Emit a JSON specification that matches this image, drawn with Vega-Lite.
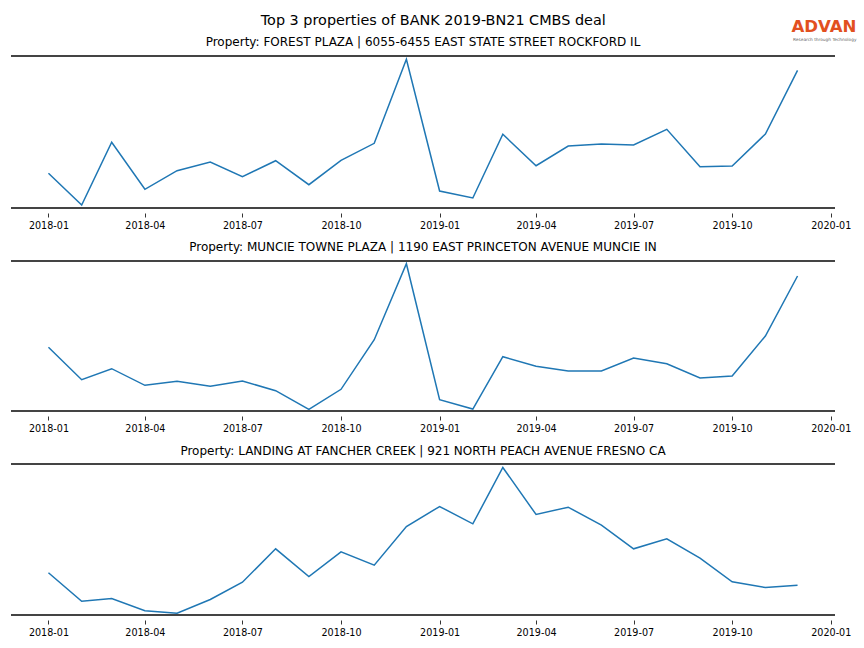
{
  "$schema": "https://vega.github.io/schema/vega-lite/v6.json",
  "padding": {"left": 10, "top": 12, "right": 0, "bottom": 0},
  "background": "white",
  "config": {
    "view": {"stroke": null},
    "font": "DejaVu Sans",
    "title": {"font": "DejaVu Sans", "fontWeight": "normal", "fontSize": 12, "color": "#000"},
    "axisX": {
      "domain": false, "grid": false, "tickColor": "#000", "tickWidth": 0.8, "tickSize": 4, "offset": 5,
      "labelFont": "DejaVu Sans", "labelFontSize": 9.6, "labelColor": "#000", "labelPadding": 3,
      "labelFlush": false, "labelOverlap": false
    }
  },
  "datasets": {
    "forest": [
      {"date": "2018-01-01", "value": 34.7}, {"date": "2018-02-01", "value": 3}, {"date": "2018-03-01", "value": 65.7},
      {"date": "2018-04-01", "value": 18.7}, {"date": "2018-05-01", "value": 37.3}, {"date": "2018-06-01", "value": 46},
      {"date": "2018-07-01", "value": 31.3}, {"date": "2018-08-01", "value": 47.3}, {"date": "2018-09-01", "value": 23.3},
      {"date": "2018-10-01", "value": 47.7}, {"date": "2018-11-01", "value": 64.7}, {"date": "2018-12-01", "value": 148.7},
      {"date": "2019-01-01", "value": 17}, {"date": "2019-02-01", "value": 10}, {"date": "2019-03-01", "value": 73.7},
      {"date": "2019-04-01", "value": 42.3}, {"date": "2019-05-01", "value": 62}, {"date": "2019-06-01", "value": 64},
      {"date": "2019-07-01", "value": 63}, {"date": "2019-08-01", "value": 78.7}, {"date": "2019-09-01", "value": 41.3},
      {"date": "2019-10-01", "value": 42}, {"date": "2019-11-01", "value": 74}, {"date": "2019-12-01", "value": 137.7}
    ],
    "muncie": [
      {"date": "2018-01-01", "value": 63.7}, {"date": "2018-02-01", "value": 31.3}, {"date": "2018-03-01", "value": 42.3},
      {"date": "2018-04-01", "value": 25.7}, {"date": "2018-05-01", "value": 29.7}, {"date": "2018-06-01", "value": 24.7},
      {"date": "2018-07-01", "value": 30}, {"date": "2018-08-01", "value": 20.3}, {"date": "2018-09-01", "value": 1.7},
      {"date": "2018-10-01", "value": 21.7}, {"date": "2018-11-01", "value": 71.3}, {"date": "2018-12-01", "value": 147.3},
      {"date": "2019-01-01", "value": 11.3}, {"date": "2019-02-01", "value": 2}, {"date": "2019-03-01", "value": 54.3},
      {"date": "2019-04-01", "value": 44.7}, {"date": "2019-05-01", "value": 40}, {"date": "2019-06-01", "value": 40},
      {"date": "2019-07-01", "value": 53}, {"date": "2019-08-01", "value": 47.3}, {"date": "2019-09-01", "value": 33},
      {"date": "2019-10-01", "value": 35}, {"date": "2019-11-01", "value": 75}, {"date": "2019-12-01", "value": 135}
    ],
    "fancher": [
      {"date": "2018-01-01", "value": 42.2}, {"date": "2018-02-01", "value": 13.8}, {"date": "2018-03-01", "value": 16.5},
      {"date": "2018-04-01", "value": 4.2}, {"date": "2018-05-01", "value": 1.8}, {"date": "2018-06-01", "value": 15.5},
      {"date": "2018-07-01", "value": 32.8}, {"date": "2018-08-01", "value": 66.2}, {"date": "2018-09-01", "value": 38.5},
      {"date": "2018-10-01", "value": 63.2}, {"date": "2018-11-01", "value": 49.8}, {"date": "2018-12-01", "value": 88.5},
      {"date": "2019-01-01", "value": 108.5}, {"date": "2019-02-01", "value": 91.2}, {"date": "2019-03-01", "value": 147.5},
      {"date": "2019-04-01", "value": 100.5}, {"date": "2019-05-01", "value": 107.8}, {"date": "2019-06-01", "value": 89.8},
      {"date": "2019-07-01", "value": 66.2}, {"date": "2019-08-01", "value": 76.2}, {"date": "2019-09-01", "value": 56.8},
      {"date": "2019-10-01", "value": 33.2}, {"date": "2019-11-01", "value": 27.5}, {"date": "2019-12-01", "value": 29.8}
    ]
  },
  "title": {"text": "Top 3 properties of BANK 2019-BN21 CMBS deal", "fontSize": 14.4, "anchor": "middle", "offset": -9},
  "bounds": "flush",
  "spacing": 53,
  "vconcat": [
    {
      "title": {"text": "Property: FOREST PLAZA | 6055-6455 EAST STATE STREET ROCKFORD IL", "offset": -30},
      "width": 824, "height": 152,
      "layer": [
        {
          "data": {"name": "forest"},
          "mark": {"type": "line", "color": "#1f77b4", "strokeWidth": 1.5},
          "encoding": {
            "x": {"field": "date", "type": "temporal",
              "scale": {"type": "utc", "domain": [{"year": 2017, "month": 11, "date": 27, "hours": 1, "utc": true}, {"year": 2020, "month": 1, "date": 4, "hours": 23, "utc": true}]},
              "axis": {"title": null, "format": "%Y-%m", "values": [
                {"year": 2018, "month": 1, "date": 1, "utc": true}, {"year": 2018, "month": 4, "date": 1, "utc": true},
                {"year": 2018, "month": 7, "date": 1, "utc": true}, {"year": 2018, "month": 10, "date": 1, "utc": true},
                {"year": 2019, "month": 1, "date": 1, "utc": true}, {"year": 2019, "month": 4, "date": 1, "utc": true},
                {"year": 2019, "month": 7, "date": 1, "utc": true}, {"year": 2019, "month": 10, "date": 1, "utc": true},
                {"year": 2020, "month": 1, "date": 1, "utc": true}]}},
            "y": {"field": "value", "type": "quantitative", "scale": {"domain": [0, 152], "nice": false, "zero": false}, "axis": null}
          }
        },
        {"data": {"values": [{}]}, "mark": {"type": "rule", "color": "#444444", "strokeWidth": 2}, "encoding": {"y": {"datum": 152}}},
        {"data": {"values": [{}]}, "mark": {"type": "rule", "color": "#444444", "strokeWidth": 2}, "encoding": {"y": {"datum": 0}}},
        {"data": {"values": [{"label": "ADVAN"}]}, "mark": {"type": "text", "font": "DejaVu Sans", "fontWeight": "bold", "fontSize": 16.6, "color": "#e2501f", "align": "right", "baseline": "alphabetic"},
          "encoding": {"text": {"field": "label"}, "x": {"datum": {"year": 2020, "month": 1, "date": 25, "utc": true}}, "y": {"datum": 176}}},
        {"data": {"values": [{"label": "Research through Technology"}]}, "mark": {"type": "text", "font": "DejaVu Sans", "fontSize": 4.3, "color": "#666666", "align": "right", "baseline": "alphabetic"},
          "encoding": {"text": {"field": "label"}, "x": {"datum": {"year": 2020, "month": 1, "date": 25, "utc": true}}, "y": {"datum": 167.5}}}
      ]
    },
    {
      "title": {"text": "Property: MUNCIE TOWNE PLAZA | 1190 EAST PRINCETON AVENUE MUNCIE IN", "offset": 6},
      "width": 824, "height": 150,
      "layer": [
        {
          "data": {"name": "muncie"},
          "mark": {"type": "line", "color": "#1f77b4", "strokeWidth": 1.5},
          "encoding": {
            "x": {"field": "date", "type": "temporal",
              "scale": {"type": "utc", "domain": [{"year": 2017, "month": 11, "date": 27, "hours": 1, "utc": true}, {"year": 2020, "month": 1, "date": 4, "hours": 23, "utc": true}]},
              "axis": {"title": null, "format": "%Y-%m", "values": [
                {"year": 2018, "month": 1, "date": 1, "utc": true}, {"year": 2018, "month": 4, "date": 1, "utc": true},
                {"year": 2018, "month": 7, "date": 1, "utc": true}, {"year": 2018, "month": 10, "date": 1, "utc": true},
                {"year": 2019, "month": 1, "date": 1, "utc": true}, {"year": 2019, "month": 4, "date": 1, "utc": true},
                {"year": 2019, "month": 7, "date": 1, "utc": true}, {"year": 2019, "month": 10, "date": 1, "utc": true},
                {"year": 2020, "month": 1, "date": 1, "utc": true}]}},
            "y": {"field": "value", "type": "quantitative", "scale": {"domain": [0, 150], "nice": false, "zero": false}, "axis": null}
          }
        },
        {"data": {"values": [{}]}, "mark": {"type": "rule", "color": "#444444", "strokeWidth": 2}, "encoding": {"y": {"datum": 150}}},
        {"data": {"values": [{}]}, "mark": {"type": "rule", "color": "#444444", "strokeWidth": 2}, "encoding": {"y": {"datum": 0}}}
      ]
    },
    {
      "title": {"text": "Property: LANDING AT FANCHER CREEK | 921 NORTH PEACH AVENUE FRESNO CA", "offset": 5.5},
      "width": 824, "height": 151,
      "layer": [
        {
          "data": {"name": "fancher"},
          "mark": {"type": "line", "color": "#1f77b4", "strokeWidth": 1.5},
          "encoding": {
            "x": {"field": "date", "type": "temporal",
              "scale": {"type": "utc", "domain": [{"year": 2017, "month": 11, "date": 27, "hours": 1, "utc": true}, {"year": 2020, "month": 1, "date": 4, "hours": 23, "utc": true}]},
              "axis": {"title": null, "format": "%Y-%m", "values": [
                {"year": 2018, "month": 1, "date": 1, "utc": true}, {"year": 2018, "month": 4, "date": 1, "utc": true},
                {"year": 2018, "month": 7, "date": 1, "utc": true}, {"year": 2018, "month": 10, "date": 1, "utc": true},
                {"year": 2019, "month": 1, "date": 1, "utc": true}, {"year": 2019, "month": 4, "date": 1, "utc": true},
                {"year": 2019, "month": 7, "date": 1, "utc": true}, {"year": 2019, "month": 10, "date": 1, "utc": true},
                {"year": 2020, "month": 1, "date": 1, "utc": true}]}},
            "y": {"field": "value", "type": "quantitative", "scale": {"domain": [0, 151], "nice": false, "zero": false}, "axis": null}
          }
        },
        {"data": {"values": [{}]}, "mark": {"type": "rule", "color": "#444444", "strokeWidth": 2}, "encoding": {"y": {"datum": 151}}},
        {"data": {"values": [{}]}, "mark": {"type": "rule", "color": "#444444", "strokeWidth": 2}, "encoding": {"y": {"datum": 0}}}
      ]
    }
  ]
}
